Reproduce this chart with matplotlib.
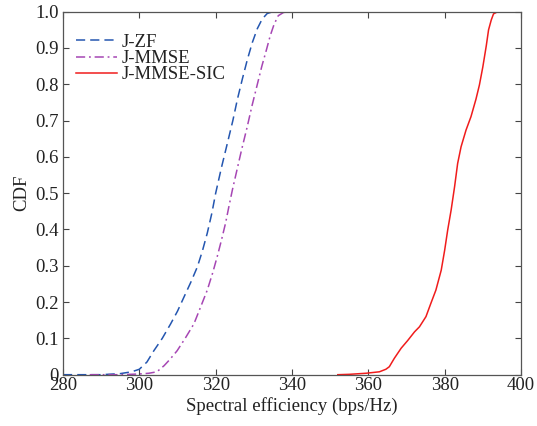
import matplotlib
matplotlib.use("Agg")
import matplotlib.pyplot as plt

plt.rcParams['font.family'] = ['Liberation Serif', 'DejaVu Serif']

zf_x = [280, 290, 295, 298, 300, 302, 303.8, 306, 308.2, 310, 311.7, 313.5, 315.2, 316.5, 317.8,
        319, 320, 321.5, 323.1, 324.5, 325.7, 327, 328.3, 329.6, 330.9, 332.2, 333.5, 335, 338]
zf_y = [0.0, 0.0, 0.003, 0.008, 0.015, 0.035, 0.066, 0.10, 0.14, 0.175, 0.214, 0.255, 0.297, 0.34, 0.39,
        0.445, 0.50, 0.57, 0.639, 0.70, 0.759, 0.815, 0.868, 0.915, 0.953, 0.98, 0.995, 1.0, 1.0]

mmse_x = [287, 295, 300, 302.5, 304.6, 306.5, 308, 309.9, 312, 314.3, 316, 317.8, 319.2, 320.4, 321.5,
          322.6, 323.5, 324.4, 325.6, 326.8, 328.2, 329.5, 330.8, 332.1, 333.3, 334.3, 335.3, 336.4,
          337.8, 339.5, 341]
mmse_y = [0.0, 0.0, 0.002, 0.004, 0.008, 0.025, 0.042, 0.066, 0.10, 0.14, 0.185, 0.233, 0.28, 0.325, 0.37,
          0.418, 0.465, 0.51, 0.565, 0.62, 0.68, 0.74, 0.795, 0.85, 0.895, 0.934, 0.965, 0.989,
          0.998, 1.0, 1.0]

sic_x = [352.0, 355.0, 359.4, 362.9, 364.6, 365.5, 366.8, 368.6, 370.3, 372.1, 373.4, 375.1, 376.4,
         377.7, 379.1, 380.0, 380.8, 381.7, 382.6, 383.4, 384.3, 385.6, 386.9, 388.2, 389.1, 390.0,
         390.9, 391.5, 392.2, 392.8, 393.9, 394.8]
sic_y = [0.0, 0.001, 0.004, 0.008, 0.015, 0.022, 0.045, 0.073, 0.094, 0.118, 0.132, 0.16, 0.197,
         0.233, 0.288, 0.343, 0.399, 0.454, 0.518, 0.582, 0.628, 0.674, 0.711, 0.759, 0.798, 0.848,
         0.906, 0.95, 0.977, 0.994, 1.0, 1.0]

xticks = [280, 300, 320, 340, 360, 380, 400]
yticks = [0, 0.1, 0.2, 0.3, 0.4, 0.5, 0.6, 0.7, 0.8, 0.9, 1.0]
ytick_labels = ['0', '0.1', '0.2', '0.3', '0.4', '0.5', '0.6', '0.7', '0.8', '0.9', '1.0']

fig = plt.figure(figsize=(5.37, 4.26), dpi=100)
ax = fig.add_axes([63/537, 1-374.7/426, (521-63)/537, (374.7-11.7)/426])

ax.plot(zf_x, zf_y, color='#2456b0', linestyle=(0, (6, 3.3)), linewidth=1.1, label='J-ZF')
ax.plot(mmse_x, mmse_y, color='#a646b4', linestyle=(0, (6, 2.5, 1.2, 2.5)), linewidth=1.1, label='J-MMSE')
ax.plot(sic_x, sic_y, color='#f01c1c', linestyle='-', linewidth=1.1, label='J-MMSE-SIC')

ax.set_xlim(280, 400)
ax.set_ylim(0, 1)
ax.set_xticks(xticks)
ax.set_yticks(yticks)
ax.set_yticklabels(ytick_labels)
ax.tick_params(direction='in', top=True, right=True, length=4, width=0.8,
               labelsize=13.5, color='#444444', labelcolor='#222222')
ax.tick_params(axis='x', pad=2)
ax.tick_params(axis='y', pad=3)
for s in ax.spines.values():
    s.set_color('#555555')
    s.set_linewidth(0.9)

ax.set_xlabel('Spectral efficiency (bps/Hz)', fontsize=13.5, color='#222222', labelpad=2)
ax.set_ylabel('CDF', fontsize=13.5, color='#222222', labelpad=4)

leg = ax.legend(loc='upper left', bbox_to_anchor=(0.0, 0.975), frameon=False, fontsize=13.5,
                handlelength=2.2, handletextpad=0.2, labelspacing=-0.05, borderaxespad=0.3)
for t in leg.get_texts():
    t.set_color('#222222')

fig.savefig('out.png', dpi=100)
